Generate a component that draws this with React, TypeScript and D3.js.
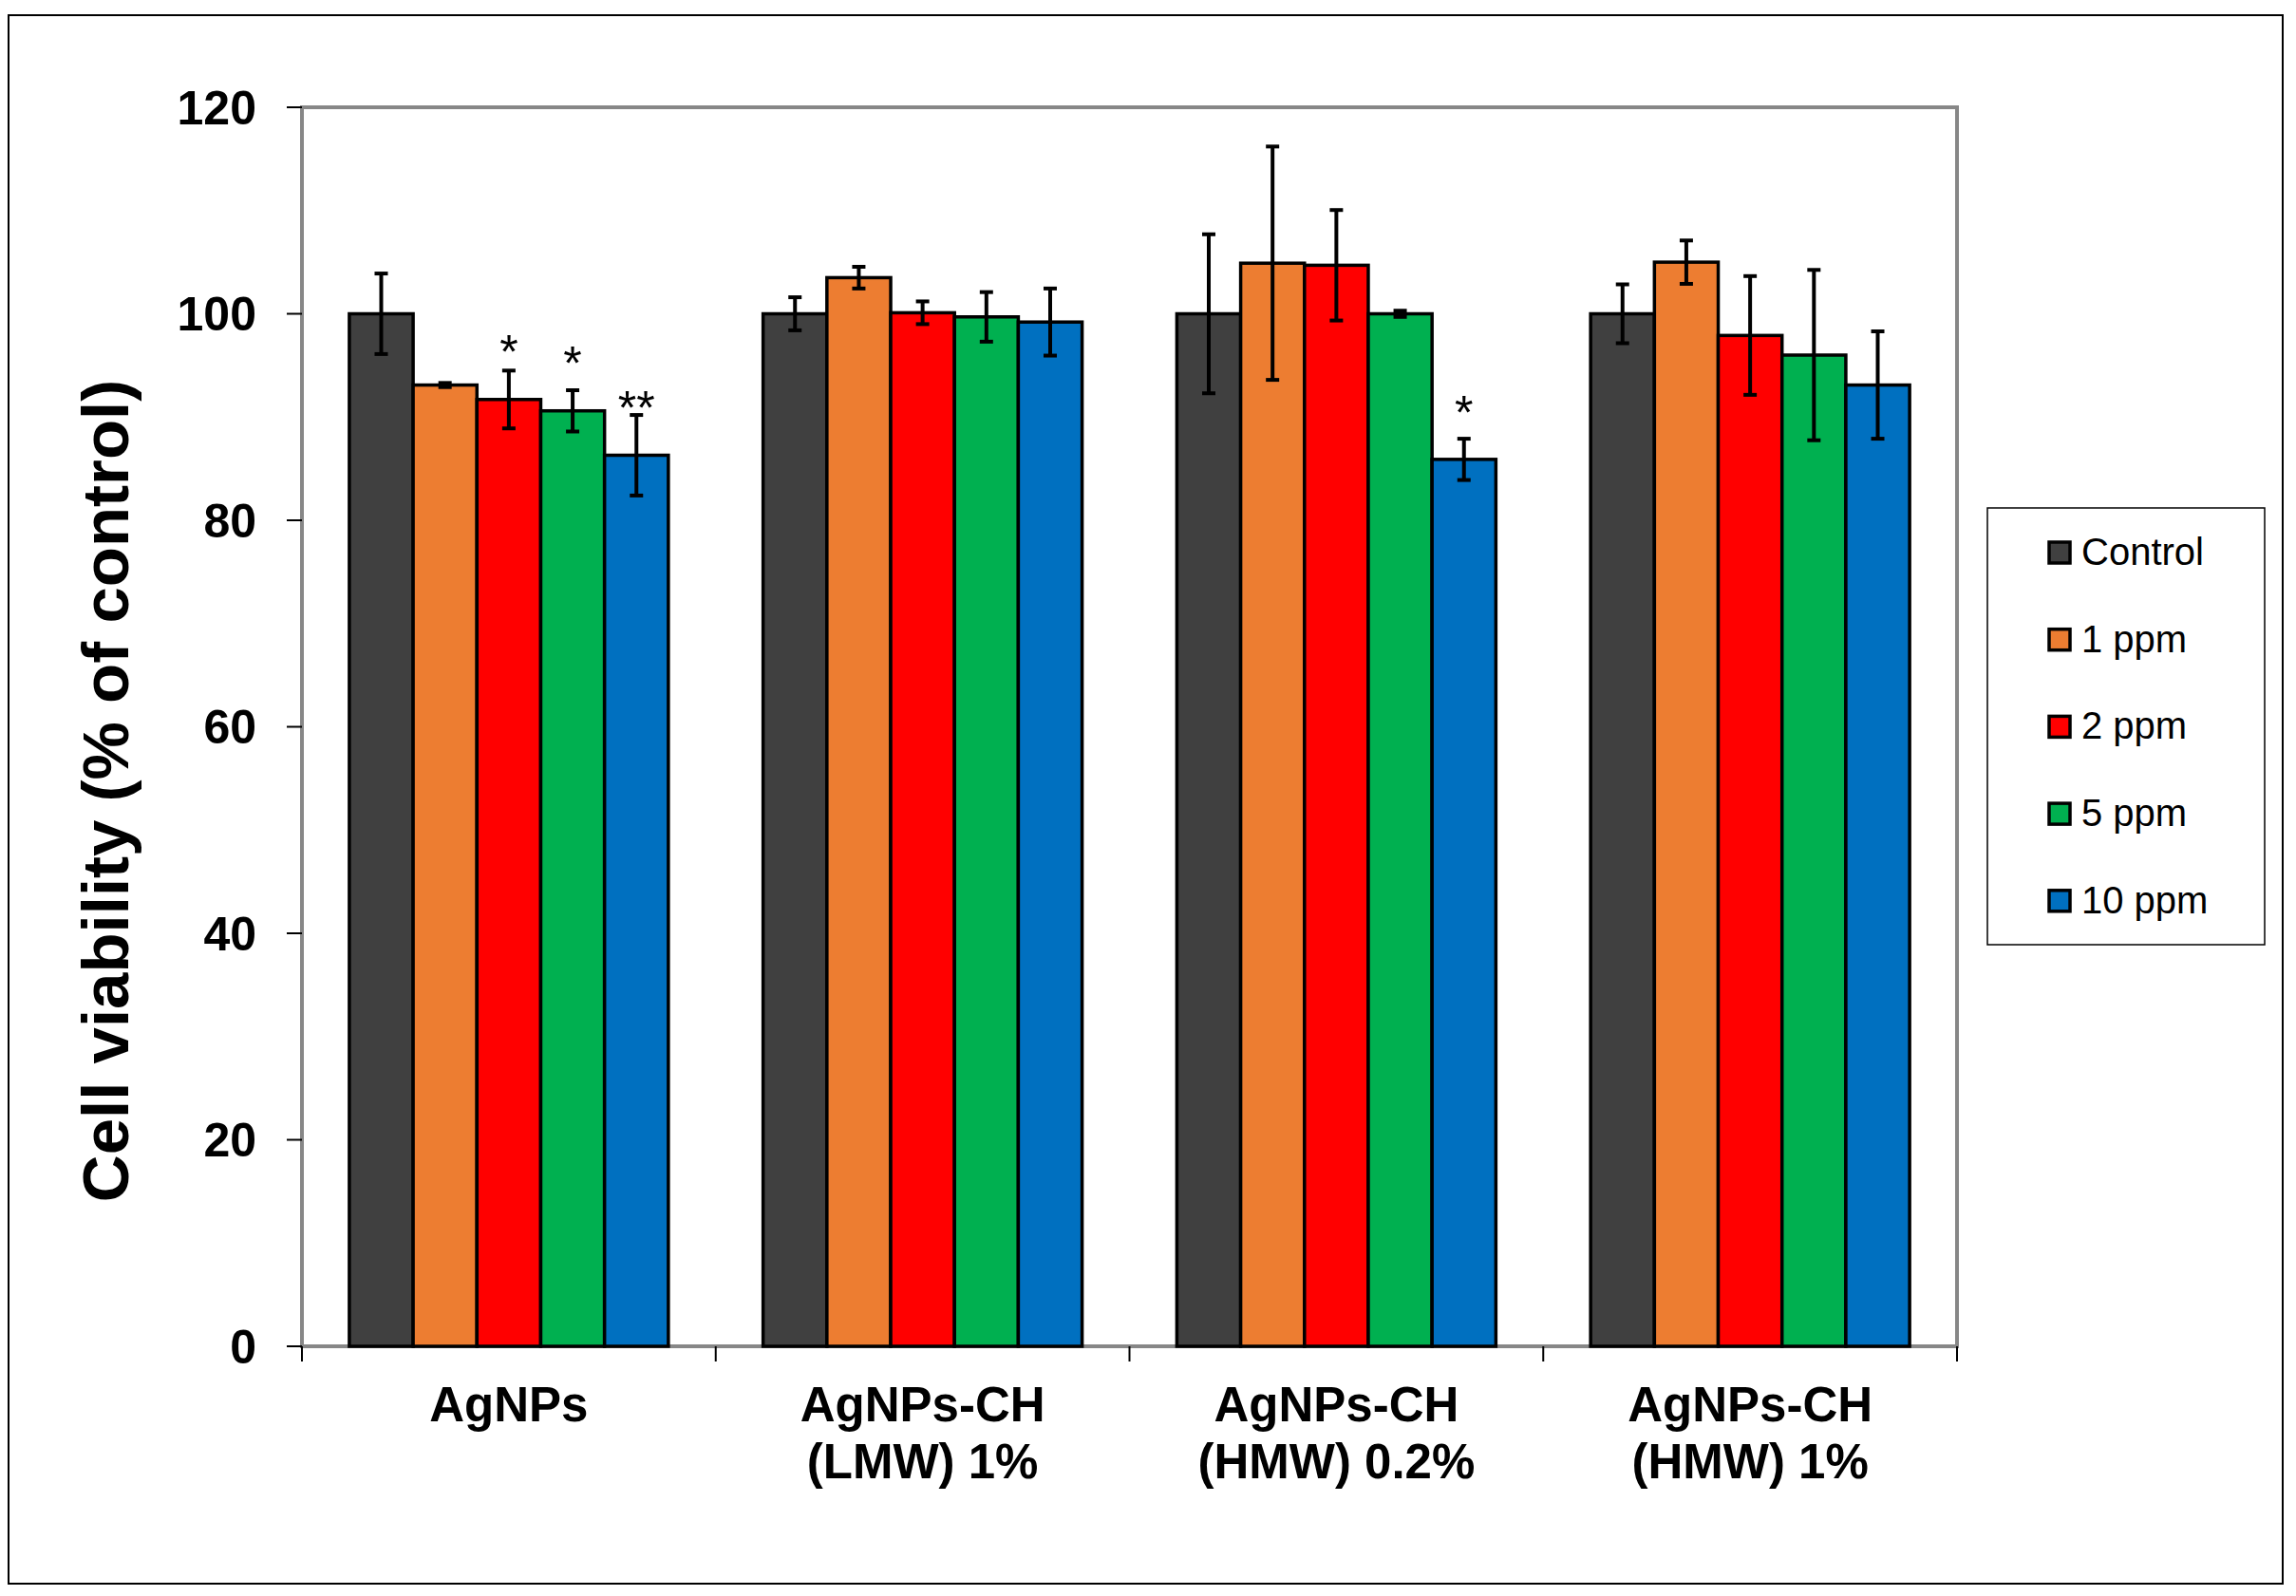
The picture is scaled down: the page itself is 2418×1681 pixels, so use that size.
import * as d3 from "d3";

const groups = ["AgNPs", "AgNPs-CH (LMW) 1%", "AgNPs-CH (HMW) 0.2%", "AgNPs-CH (HMW) 1%"];
const groupLines = [["AgNPs"], ["AgNPs-CH", "(LMW) 1%"], ["AgNPs-CH", "(HMW) 0.2%"], ["AgNPs-CH", "(HMW) 1%"]];

const series = ["Control", "1 ppm", "2 ppm", "5 ppm", "10 ppm"];
const seriesColors = ["#404040", "#ED7D31", "#FF0000", "#00B050", "#0070C0"];

// mean viability per group, one array per series
const controlMean = [100, 100, 100, 100];
const ppm1Mean = [93.1, 103.5, 104.9, 105.0];
const ppm2Mean = [91.7, 100.1, 104.7, 97.9];
const ppm5Mean = [90.6, 99.7, 100.0, 96.0];
const ppm10Mean = [86.3, 99.2, 85.9, 93.1];

// standard deviations
const controlErr = [3.9, 1.6, 7.7, 2.85];
const ppm1Err = [0.2, 1.05, 11.3, 2.1];
const ppm2Err = [2.8, 1.1, 5.35, 5.75];
const ppm5Err = [2.0, 2.4, 0.3, 8.25];
const ppm10Err = [3.9, 3.25, 2.0, 5.2];

const means = [controlMean, ppm1Mean, ppm2Mean, ppm5Mean, ppm10Mean];
const errs = [controlErr, ppm1Err, ppm2Err, ppm5Err, ppm10Err];

const yTicks = [0, 20, 40, 60, 80, 100, 120];

// significance marks: group index, series index, label, baseline value
const marks = [
  { g: 0, s: 2, label: "*", at: 94.7 },
  { g: 0, s: 3, label: "*", at: 93.6 },
  { g: 0, s: 4, label: "**", at: 89.3 },
  { g: 2, s: 4, label: "*", at: 88.8 },
];

const W = 2418;
const H = 1681;
const plot = { left: 318, right: 2061, top: 113, bottom: 1418 };
const font = "'Liberation Sans', Arial, Helvetica, sans-serif";

export default function App() {
  const y = d3.scaleLinear().domain([0, 120]).range([plot.bottom, plot.top]);
  const x0 = d3.scaleBand<string>().domain(groups).range([plot.left, plot.right]);
  const gw = x0.bandwidth();
  const inner = gw * 0.771;
  const x1 = d3
    .scaleBand<string>()
    .domain(series)
    .range([(gw - inner) / 2, (gw + inner) / 2]);
  const bw = x1.bandwidth();

  const boundaries = groups.map((g) => x0(g)!).concat([plot.right]);

  return (
    <svg
      width={W}
      height={H}
      style={{ position: "absolute", left: 0, top: 0, background: "#fff" }}
      fontFamily={font}
    >
      <rect x={0} y={0} width={W} height={H} fill="#fff" />
      <rect x={9} y={16} width={2395} height={1652} fill="none" stroke="#000" strokeWidth={2} />

      {/* plot frame */}
      <rect
        x={plot.left}
        y={plot.top}
        width={plot.right - plot.left}
        height={plot.bottom - plot.top}
        fill="none"
        stroke="#878787"
        strokeWidth={4}
      />

      {/* y axis ticks */}
      {yTicks.map((t) => (
        <g key={t}>
          <line x1={plot.left - 16} x2={plot.left} y1={y(t)} y2={y(t)} stroke="#000" strokeWidth={2} />
          <text
            x={270}
            y={y(t)}
            dy="0.35em"
            textAnchor="end"
            fontSize={50}
            fontWeight="bold"
          >
            {t}
          </text>
        </g>
      ))}

      {/* x category ticks */}
      {boundaries.map((b, i) => (
        <line key={i} x1={b} x2={b} y1={plot.bottom} y2={plot.bottom + 16} stroke="#000" strokeWidth={2} />
      ))}

      {/* bars */}
      {groups.map((g, gi) => (
        <g key={g} transform={`translate(${x0(g)},0)`}>
          {series.map((s, si) => (
            <rect
              key={s}
              x={x1(s)}
              y={y(means[si][gi])}
              width={bw}
              height={y(0) - y(means[si][gi])}
              fill={seriesColors[si]}
              stroke="#000"
              strokeWidth={3.5}
            />
          ))}
        </g>
      ))}

      {/* error bars */}
      {groups.map((g, gi) => (
        <g key={g} transform={`translate(${x0(g)},0)`}>
          {series.map((s, si) => {
            const cx = x1(s)! + bw / 2;
            const hi = y(means[si][gi] + errs[si][gi]);
            const lo = y(means[si][gi] - errs[si][gi]);
            return (
              <g key={s} stroke="#000" strokeWidth={4}>
                <line x1={cx} x2={cx} y1={hi} y2={lo} />
                <line x1={cx - 7} x2={cx + 7} y1={hi} y2={hi} />
                <line x1={cx - 7} x2={cx + 7} y1={lo} y2={lo} />
              </g>
            );
          })}
        </g>
      ))}

      {/* significance */}
      {marks.map((m, i) => (
        <text
          key={i}
          x={x0(groups[m.g])! + x1(series[m.s])! + bw / 2}
          y={y(m.at)}
          textAnchor="middle"
          fontSize={50}
        >
          {m.label}
        </text>
      ))}

      {/* category labels */}
      {groups.map((g, gi) => (
        <text
          key={g}
          x={x0(g)! + gw / 2}
          y={1497}
          textAnchor="middle"
          fontSize={51}
          fontWeight="bold"
        >
          {groupLines[gi].map((ln, li) => (
            <tspan key={li} x={x0(g)! + gw / 2} dy={li === 0 ? 0 : 60}>
              {ln}
            </tspan>
          ))}
        </text>
      ))}

      {/* y title */}
      <text
        transform="translate(135,833) rotate(-90)"
        textAnchor="middle"
        fontSize={69}
        fontWeight="bold"
      >
        Cell viability (% of control)
      </text>

      {/* legend */}
      <rect x={2093} y={535} width={292} height={460} fill="#fff" stroke="#000" strokeWidth={1.5} />
      {series.map((s, si) => {
        const cy = 582 + si * 91.7;
        return (
          <g key={s}>
            <rect
              x={2158}
              y={cy - 11}
              width={22}
              height={22}
              fill={seriesColors[si]}
              stroke="#000"
              strokeWidth={3.5}
            />
            <text x={2192} y={cy + 13} fontSize={40}>
              {s}
            </text>
          </g>
        );
      })}
    </svg>
  );
}
